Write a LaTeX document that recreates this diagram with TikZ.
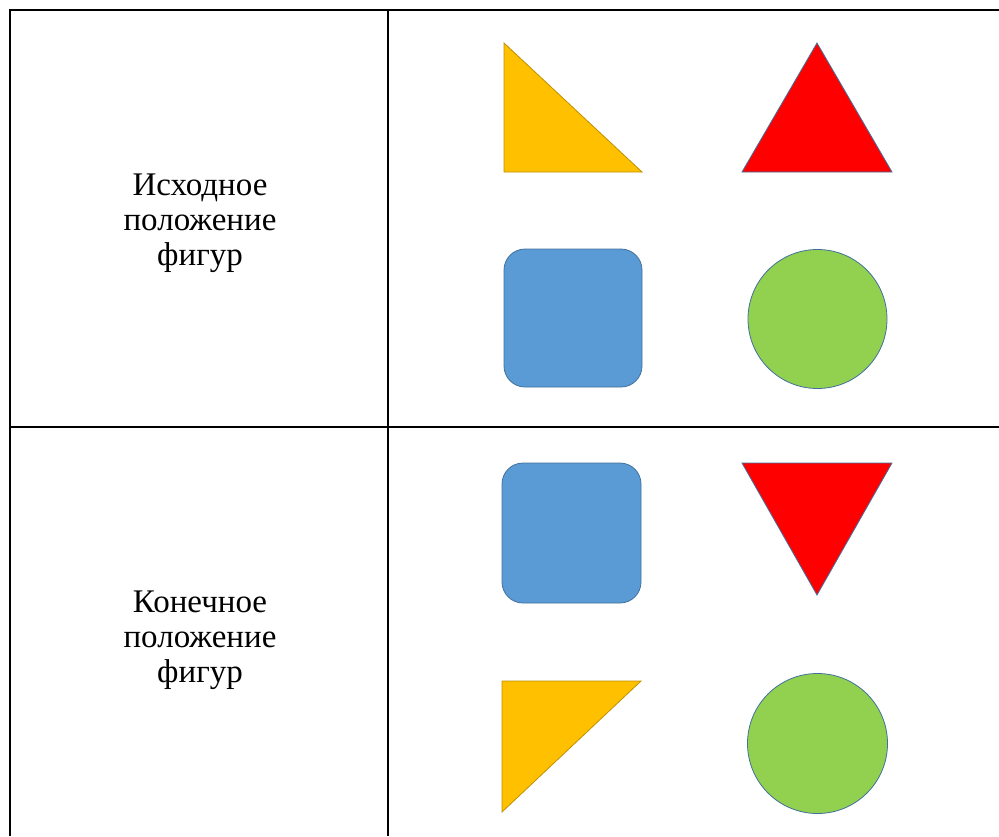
\documentclass[tikz,border=0pt]{standalone}
\usepackage{fontspec}
\setmainfont{Liberation Serif}
\usepackage{tikz}
\usetikzlibrary{positioning}
\definecolor{figgold}{HTML}{FFC000}
\definecolor{figgoldline}{HTML}{BF9000}
\definecolor{figred}{HTML}{FF0000}
\definecolor{figblue}{HTML}{5B9BD5}
\definecolor{figgreen}{HTML}{92D050}
\definecolor{figline}{HTML}{41719C}

\begin{document}
\begin{tikzpicture}[x=1pt, y=-1pt,
  grid/.style={line width=2.2pt, black},
  caption/.style={font=\fontsize{33}{35}\selectfont, align=center},
  goldfig/.style={fill=figgold, draw=figgoldline, line width=0.8pt, line join=miter},
  shapefig/.style={draw=figline, line width=0.8pt}]
  \useasboundingbox (0,0) rectangle (999,836);

  % table grid
  \coordinate (tl) at (10,10);
  \coordinate (tr) at (999,10);
  \coordinate (bl) at (10,836);
  \coordinate (mt) at (388,10);
  \coordinate (mb) at (388,836);
  \coordinate (ml) at (10,427);
  \coordinate (mr) at (999,427);
  \draw[grid] (bl) -- (tl) -- (tr);
  \draw[grid] (mt) -- (mb);
  \draw[grid] (ml) -- (mr);

  % row labels
  \node[caption] (start) at (200,223) {Исходное\\положение\\фигур};
  \node[caption] (final) at (200,640) {Конечное\\положение\\фигур};

  % initial position
  \draw[goldfig] (504,43) -- (504,172) -- (642,172) -- cycle;
  \draw[shapefig, fill=figred] (817,43) -- (742,172) -- (892,172) -- cycle;
  \draw[shapefig, fill=figblue, rounded corners=21pt] (504,249) rectangle (642,387);
  \draw[shapefig, fill=figgreen] (817.5,319) circle (69.5);

  % final position
  \draw[shapefig, fill=figblue, rounded corners=21pt] (502,463) rectangle (641,603);
  \draw[shapefig, fill=figred] (742,463) -- (892,463) -- (817,595) -- cycle;
  \draw[goldfig] (502,681) -- (641,681) -- (502,812) -- cycle;
  \draw[shapefig, fill=figgreen] (817.5,743.5) circle (70);
\end{tikzpicture}
\end{document}
